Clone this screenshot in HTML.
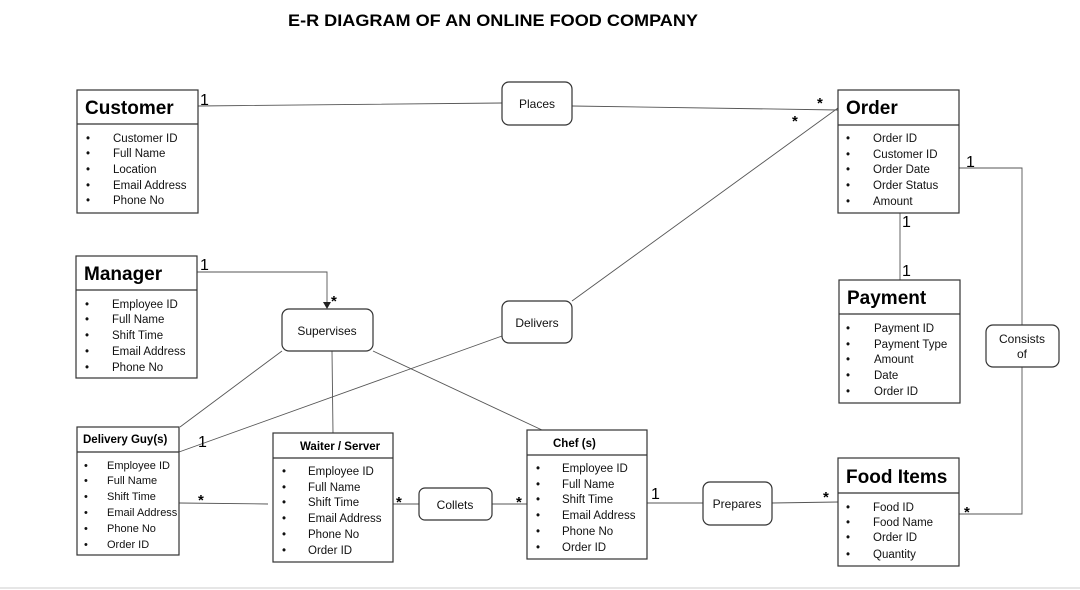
<!DOCTYPE html>
<html><head><meta charset="utf-8"><style>
html,body{margin:0;padding:0;background:#fff;width:1080px;height:590px;overflow:hidden}
svg{display:block;font-family:"Liberation Sans",sans-serif}
.b{fill:#fff;stroke:#333;stroke-width:1.2}
.l{stroke:#555;stroke-width:0.9;fill:none}
.t{font-size:11.5px;fill:#111}
.tn{font-size:11px;fill:#111}
.h{font-weight:bold;font-size:19px;fill:#000}
.hs{font-weight:bold;font-size:11.5px;fill:#000}
.c{font-size:16px;fill:#000}
.s{font-size:15px;font-weight:bold;fill:#000}
.r{font-size:12px;fill:#111;text-anchor:middle}
</style></head><body>
<svg width="1080" height="590" viewBox="0 0 1080 590">
<text x="493" y="26" text-anchor="middle" font-weight="bold" font-size="17" textLength="410" lengthAdjust="spacingAndGlyphs">E-R DIAGRAM OF AN ONLINE FOOD COMPANY</text>
<line x1="0" y1="588" x2="1080" y2="588" stroke="#ccc"/>

<path class="l" d="M198 106 L502 103 M572 106 L838 110 M572 301 L838 108 M502 336 L179 452 M197 272 L327 272 L327 303 M282 351 L180 427 M332 351 L333 433 M373 351 L542 430 M179 503 L268 504 M393 504 L419 504 M492 504 L527 504 M647 503 L703 503 M772 503 L838 502 M959 168 L1022 168 L1022 325 M1022 367 L1022 514 L959 514 M900 213 L900 280"/>
<polygon points="323,302 331,302 327,309" fill="#222"/>

<rect class="b" x="77" y="90" width="121" height="123"/><line class="b" x1="77" y1="124" x2="198" y2="124"/>
<text class="h" x="85" y="114">Customer</text>
<g class="t"><text x="86" y="142">•</text><text x="113" y="142">Customer ID</text><text x="86" y="157">•</text><text x="113" y="157">Full Name</text><text x="86" y="173">•</text><text x="113" y="173">Location</text><text x="86" y="189">•</text><text x="113" y="189">Email Address</text><text x="86" y="204">•</text><text x="113" y="204">Phone No</text></g>

<rect class="b" x="76" y="256" width="121" height="122"/><line class="b" x1="76" y1="290" x2="197" y2="290"/>
<text class="h" x="84" y="280">Manager</text>
<g class="t"><text x="85" y="308">•</text><text x="112" y="308">Employee ID</text><text x="85" y="323">•</text><text x="112" y="323">Full Name</text><text x="85" y="339">•</text><text x="112" y="339">Shift Time</text><text x="85" y="355">•</text><text x="112" y="355">Email Address</text><text x="85" y="371">•</text><text x="112" y="371">Phone No</text></g>

<rect class="b" x="77" y="427" width="102" height="128"/><line class="b" x1="77" y1="452" x2="179" y2="452"/>
<text class="hs" x="83" y="443">Delivery Guy(s)</text>
<g class="tn"><text x="84" y="469">•</text><text x="107" y="469">Employee ID</text><text x="84" y="484">•</text><text x="107" y="484">Full Name</text><text x="84" y="500">•</text><text x="107" y="500">Shift Time</text><text x="84" y="516">•</text><text x="107" y="516">Email Address</text><text x="84" y="532">•</text><text x="107" y="532">Phone No</text><text x="84" y="548">•</text><text x="107" y="548">Order ID</text></g>

<rect class="b" x="273" y="433" width="120" height="129"/><line class="b" x1="273" y1="458" x2="393" y2="458"/>
<text class="hs" x="300" y="450">Waiter / Server</text>
<g class="t"><text x="282" y="475">•</text><text x="308" y="475">Employee ID</text><text x="282" y="491">•</text><text x="308" y="491">Full Name</text><text x="282" y="506">•</text><text x="308" y="506">Shift Time</text><text x="282" y="522">•</text><text x="308" y="522">Email Address</text><text x="282" y="538">•</text><text x="308" y="538">Phone No</text><text x="282" y="554">•</text><text x="308" y="554">Order ID</text></g>

<rect class="b" x="527" y="430" width="120" height="129"/><line class="b" x1="527" y1="455" x2="647" y2="455"/>
<text class="hs" x="553" y="447">Chef (s)</text>
<g class="t"><text x="536" y="472">•</text><text x="562" y="472">Employee ID</text><text x="536" y="488">•</text><text x="562" y="488">Full Name</text><text x="536" y="503">•</text><text x="562" y="503">Shift Time</text><text x="536" y="519">•</text><text x="562" y="519">Email Address</text><text x="536" y="535">•</text><text x="562" y="535">Phone No</text><text x="536" y="551">•</text><text x="562" y="551">Order ID</text></g>

<rect class="b" x="838" y="90" width="121" height="123"/><line class="b" x1="838" y1="125" x2="959" y2="125"/>
<text class="h" x="846" y="114">Order</text>
<g class="t"><text x="846" y="142">•</text><text x="873" y="142">Order ID</text><text x="846" y="158">•</text><text x="873" y="158">Customer ID</text><text x="846" y="173">•</text><text x="873" y="173">Order Date</text><text x="846" y="189">•</text><text x="873" y="189">Order Status</text><text x="846" y="205">•</text><text x="873" y="205">Amount</text></g>

<rect class="b" x="839" y="280" width="121" height="123"/><line class="b" x1="839" y1="314" x2="960" y2="314"/>
<text class="h" x="847" y="304">Payment</text>
<g class="t"><text x="846" y="332">•</text><text x="874" y="332">Payment ID</text><text x="846" y="348">•</text><text x="874" y="348">Payment Type</text><text x="846" y="363">•</text><text x="874" y="363">Amount</text><text x="846" y="379">•</text><text x="874" y="379">Date</text><text x="846" y="395">•</text><text x="874" y="395">Order ID</text></g>

<rect class="b" x="838" y="458" width="121" height="108"/><line class="b" x1="838" y1="493" x2="959" y2="493"/>
<text class="h" x="846" y="483">Food Items</text>
<g class="t"><text x="846" y="511">•</text><text x="873" y="511">Food ID</text><text x="846" y="526">•</text><text x="873" y="526">Food Name</text><text x="846" y="541">•</text><text x="873" y="541">Order ID</text><text x="846" y="558">•</text><text x="873" y="558">Quantity</text></g>

<rect class="b" x="502" y="82" width="70" height="43" rx="7"/><text class="r" x="537" y="108">Places</text>
<rect class="b" x="282" y="309" width="91" height="42" rx="7"/><text class="r" x="327" y="335">Supervises</text>
<rect class="b" x="502" y="301" width="70" height="42" rx="7"/><text class="r" x="537" y="327">Delivers</text>
<rect class="b" x="419" y="488" width="73" height="32" rx="6"/><text class="r" x="455" y="509">Collets</text>
<rect class="b" x="703" y="482" width="69" height="43" rx="7"/><text class="r" x="737" y="508">Prepares</text>
<rect class="b" x="986" y="325" width="73" height="42" rx="7"/><text class="r" x="1022" y="343">Consists</text><text class="r" x="1022" y="358">of</text>

<g class="c"><text x="200" y="105">1</text><text x="200" y="270">1</text><text x="198" y="447">1</text><text x="651" y="499">1</text><text x="966" y="167">1</text><text x="902" y="227">1</text><text x="902" y="276">1</text></g>
<g class="s"><text x="817" y="108">*</text><text x="792" y="126">*</text><text x="331" y="306">*</text><text x="198" y="505">*</text><text x="396" y="507">*</text><text x="516" y="507">*</text><text x="823" y="502">*</text><text x="964" y="517">*</text></g>
</svg>
</body></html>
